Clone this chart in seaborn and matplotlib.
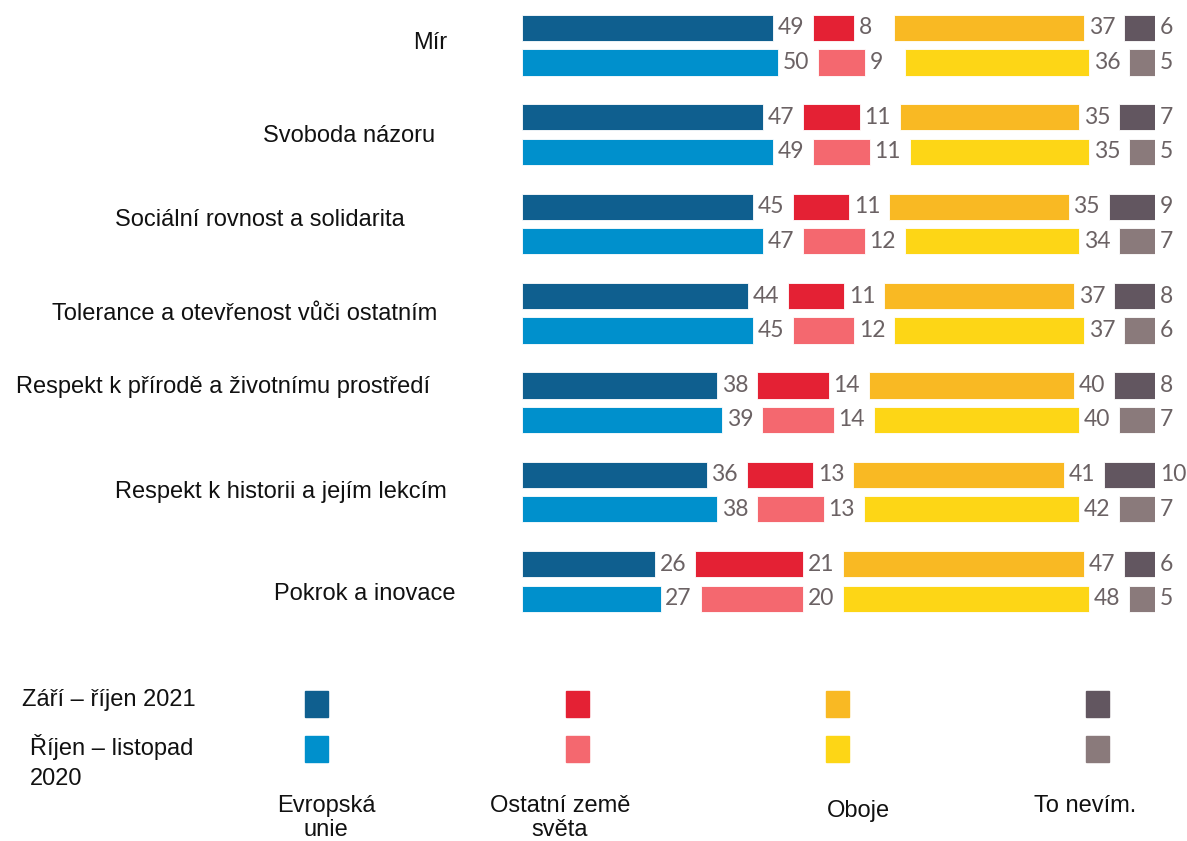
import numpy as np
import matplotlib
matplotlib.use("Agg")
import matplotlib.pyplot as plt
from matplotlib.patches import Rectangle
import seaborn as sns

# data (percent)
values_2021 = {
    "Evropská unie": [49, 47, 45, 44, 38, 36, 26],
    "Ostatní země světa": [8, 11, 11, 11, 14, 13, 21],
    "Oboje": [37, 35, 35, 37, 40, 41, 47],
    "To nevím.": [6, 7, 9, 8, 8, 10, 6],
}
values_2020 = {
    "Evropská unie": [50, 49, 47, 45, 39, 38, 27],
    "Ostatní země světa": [9, 11, 12, 12, 14, 13, 20],
    "Oboje": [36, 35, 34, 37, 40, 42, 48],
    "To nevím.": [5, 5, 7, 6, 7, 7, 5],
}
items = ["Mír", "Svoboda názoru", "Sociální rovnost a solidarita",
         "Tolerance a otevřenost vůči ostatním",
         "Respekt k přírodě a životnímu prostředí",
         "Respekt k historii a jejím lekcím", "Pokrok a inovace"]
categories = ["Evropská unie", "Ostatní země světa", "Oboje", "To nevím."]
legend_names = ["Evropská\nunie", "Ostatní země\nsvěta", "Oboje", "To nevím."]
periods = ["Září – říjen 2021", "Říjen – listopad\n2020"]

colors_2021 = ["#0f5f8f", "#e42134", "#f9b923", "#625660"]
colors_2020 = ["#0090cc", "#f4686f", "#fdd616", "#8a7a7b"]

sns.set_theme(style="white")
plt.rcParams["font.family"] = ["Liberation Sans", "DejaVu Sans"]

W, H = 1187, 841
fig = plt.figure(figsize=(W / 100, H / 100), dpi=100)

# main axes in pixel geometry
ax_left, ax_right, ax_top, ax_bot = 522, 1155, 0, 630
ax = fig.add_axes([ax_left / W, 1 - ax_bot / H, (ax_right - ax_left) / W, (ax_bot - ax_top) / H])

gap = 7.8          # space between segments (holds the value label)
row_pitch = 2.59   # distance between items
bar_h = 0.76
label_color = "#6b6264"

for j, (vals, cols) in enumerate([(values_2021, colors_2021), (values_2020, colors_2020)]):
    ypos = np.arange(len(items)) * row_pitch + j
    left = np.zeros(len(items))
    for k, cat in enumerate(categories):
        v = np.array(vals[cat], dtype=float)
        ax.barh(ypos, v, left=left, height=bar_h, color=cols[k],
                edgecolor="white", linewidth=0.6)
        for y, l, val in zip(ypos, left, v):
            ax.text(l + val + 0.9, y, f"{int(val)}", va="center", ha="left",
                    fontsize=16.5, color=label_color, family=["Lato", "DejaVu Sans"],
                    clip_on=False)
        left = left + v + gap

ax.set_xlim(0, 100 + 3 * gap)
ax.set_ylim((ax_bot - 28) / 34.5, -28 / 34.5)
ax.axis("off")

# item labels (position tweaks to follow the original layout)
label_right = [447, 435, 405, 437, 430, 447, 455]
label_y = [43, 136, 220, 314, 387, 492, 594]
for name, xr, yy in zip(items, label_right, label_y):
    fig.text(xr / W, 1 - yy / H, name, ha="right", va="center", fontsize=17, color="#111111")

# legend
sq_x = [317, 577, 837, 1097]
sq_y = [704, 749]
sq_w, sq_h = 23, 26
for j, cols in enumerate([colors_2021, colors_2020]):
    for k in range(4):
        fig.patches.append(Rectangle(((sq_x[k] - sq_w / 2) / W, 1 - (sq_y[j] + sq_h / 2) / H),
                                     sq_w / W, sq_h / H, transform=fig.transFigure,
                                     color=cols[k], zorder=3))

fig.text(22 / W, 1 - 700 / H, periods[0], ha="left", va="center", fontsize=17, color="#111111")
fig.text(30 / W, 1 - 734 / H, periods[1], ha="left", va="top", fontsize=17,
         color="#111111", linespacing=1.45)

name_x = [326, 560, 858, 1085]
name_y = [795, 795, 800, 795]
for name, xx, yy in zip(legend_names, name_x, name_y):
    fig.text(xx / W, 1 - yy / H, name, ha="center", va="top", fontsize=17,
             color="#111111", linespacing=1.1)

fig.savefig("out.png", dpi=100, facecolor="white")
